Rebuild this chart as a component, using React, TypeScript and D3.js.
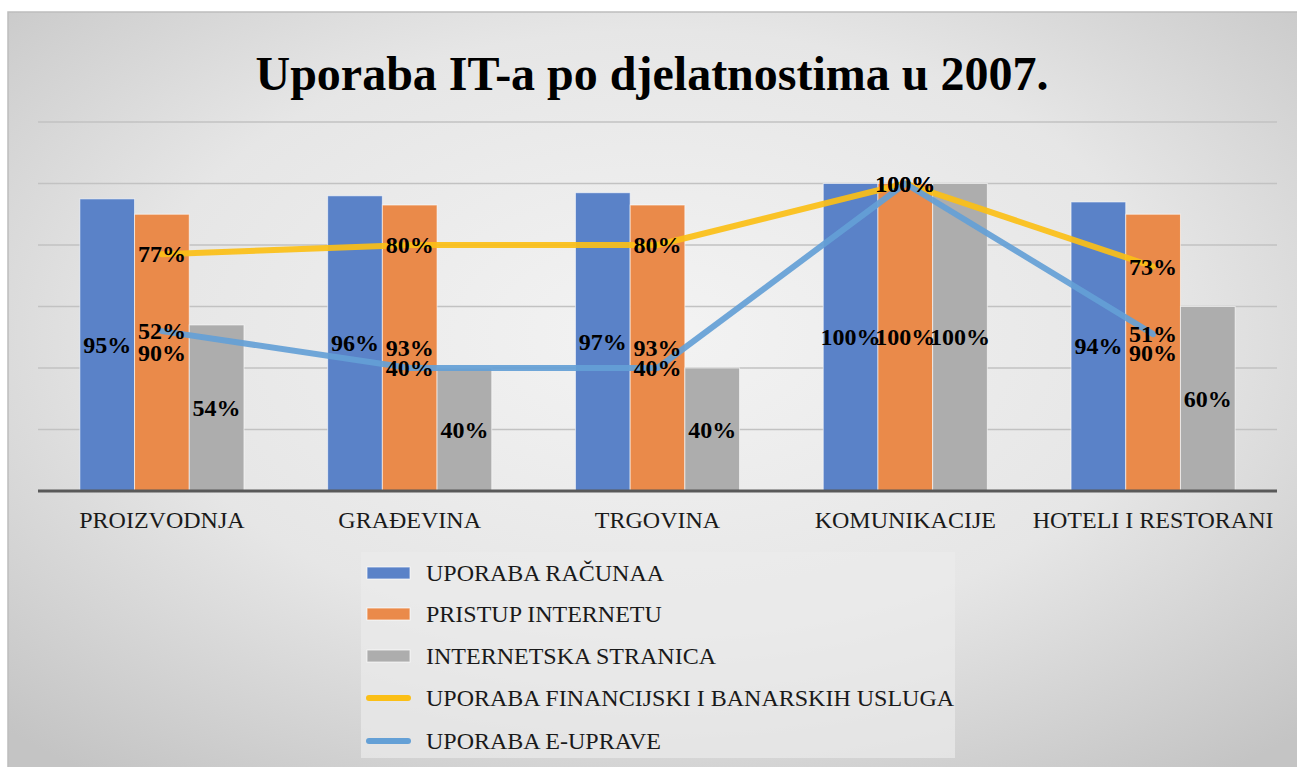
import * as d3 from "d3";

const WIDTH = 1297;
const HEIGHT = 767;
const PLOT = { left: 38, right: 1277, top: 122, bottom: 491 };

const categories = [
  "PROIZVODNJA",
  "GRAĐEVINA",
  "TRGOVINA",
  "KOMUNIKACIJE",
  "HOTELI I RESTORANI",
];

const barSeries = ["UPORABA RAČUNAA", "PRISTUP INTERNETU", "INTERNETSKA STRANICA"];
const racunala = [95, 96, 97, 100, 94];
const internet = [90, 93, 93, 100, 90];
const stranica = [54, 40, 40, 100, 60];

const lineSeries = ["UPORABA FINANCIJSKI I BANARSKIH USLUGA", "UPORABA E-UPRAVE"];
const financije = [77, 80, 80, 100, 73];
const eUprava = [52, 40, 40, 100, 51];

const yTicks = [0, 20, 40, 60, 80, 100, 120];

const barColors = ["#5a82c8", "#ea8a4a", "#adadad"];
const lineColors = ["#fbbf16", "#64a0d6"];

const SERIF = "'Liberation Serif', 'Times New Roman', serif";

export default function App() {
  const barValues = [racunala, internet, stranica];
  const lineValues = [financije, eUprava];

  const x0 = d3
    .scaleBand<string>()
    .domain(categories)
    .range([PLOT.left, PLOT.right])
    .padding(0);
  const x1 = d3
    .scaleBand<string>()
    .domain(barSeries)
    .range([0, x0.bandwidth()])
    .paddingInner(0)
    .paddingOuter(0.765);
  const y = d3.scaleLinear().domain([0, 120]).range([PLOT.bottom, PLOT.top]);

  const cx = (c: string) => (x0(c) as number) + x0.bandwidth() / 2;

  const line = d3
    .line<number>()
    .x((_, i) => cx(categories[i]))
    .y((d) => y(d));

  const legendY = [573, 614, 656, 698, 741];
  const legendItems = [
    ...barSeries.map((s, i) => ({ name: s, color: barColors[i], type: "bar" })),
    ...lineSeries.map((s, i) => ({ name: s, color: lineColors[i], type: "line" })),
  ];

  return (
    <svg
      width={WIDTH}
      height={HEIGHT}
      style={{ position: "absolute", left: 0, top: 0 }}
    >
      <defs>
        <radialGradient id="bg" cx="50%" cy="42%" r="72%">
          <stop offset="0%" stopColor="#f3f3f3" />
          <stop offset="55%" stopColor="#e6e6e6" />
          <stop offset="100%" stopColor="#c4c4c4" />
        </radialGradient>
      </defs>
      <rect x={0} y={0} width={WIDTH} height={HEIGHT} fill="#ffffff" />
      <rect
        x={8}
        y={12}
        width={WIDTH}
        height={HEIGHT}
        fill="url(#bg)"
        stroke="#bdbdbd"
        strokeWidth={1.5}
      />

      <text
        x={652}
        y={90}
        textAnchor="middle"
        fontFamily={SERIF}
        fontWeight="bold"
        fontSize={48}
        fill="#000"
      >
        Uporaba IT-a po djelatnostima u 2007.
      </text>

      {yTicks.slice(1).map((t) => (
        <line
          key={t}
          x1={PLOT.left}
          x2={PLOT.right}
          y1={y(t)}
          y2={y(t)}
          stroke="#c2c2c2"
          strokeWidth={1.5}
        />
      ))}

      {categories.map((c, ci) =>
        barSeries.map((s, si) => {
          const v = barValues[si][ci];
          return (
            <rect
              key={c + s}
              x={(x0(c) as number) + (x1(s) as number)}
              y={y(v)}
              width={x1.bandwidth()}
              height={y(0) - y(v)}
              fill={barColors[si]}
              stroke="#ffffff"
              strokeOpacity={0.6}
              strokeWidth={1}
            />
          );
        })
      )}

      <line
        x1={PLOT.left}
        x2={PLOT.right}
        y1={y(0)}
        y2={y(0)}
        stroke="#595959"
        strokeWidth={3}
      />

      {lineValues.map((vals, i) => (
        <path
          key={lineSeries[i]}
          d={line(vals) as string}
          fill="none"
          stroke={lineColors[i]}
          strokeOpacity={0.92}
          strokeWidth={6}
          strokeLinejoin="round"
          strokeLinecap="round"
        />
      ))}

      {categories.map((c, ci) =>
        barSeries.map((s, si) => {
          const v = barValues[si][ci];
          return (
            <text
              key={"l" + c + s}
              x={(x0(c) as number) + (x1(s) as number) + x1.bandwidth() / 2}
              y={(y(v) + y(0)) / 2}
              textAnchor="middle"
              dominantBaseline="central"
              fontFamily={SERIF}
              fontWeight="bold"
              fontSize={24}
              fill="#000"
            >
              {v}%
            </text>
          );
        })
      )}

      {lineValues.map((vals, i) =>
        vals.map((v, ci) => (
          <text
            key={"p" + i + ci}
            x={cx(categories[ci])}
            y={y(v)}
            textAnchor="middle"
            dominantBaseline="central"
            fontFamily={SERIF}
            fontWeight="bold"
            fontSize={24}
            fill="#000"
          >
            {v}%
          </text>
        ))
      )}

      {categories.map((c) => (
        <text
          key={"c" + c}
          x={cx(c)}
          y={528}
          textAnchor="middle"
          fontFamily={SERIF}
          fontSize={24}
          fill="#1a1a1a"
        >
          {c}
        </text>
      ))}

      <rect x={361} y={552} width={594} height={206} fill="#ebebeb" fillOpacity={0.7} />
      {legendItems.map((item, i) => (
        <g key={item.name} transform={`translate(0, ${legendY[i]})`}>
          {item.type === "bar" ? (
            <rect
              x={367}
              y={-6}
              width={43}
              height={12}
              fill={item.color}
              stroke="#ffffff"
              strokeOpacity={0.7}
              strokeWidth={1}
            />
          ) : (
            <line
              x1={369}
              x2={408}
              y1={0}
              y2={0}
              stroke={item.color}
              strokeWidth={6}
              strokeLinecap="round"
            />
          )}
          <text
            x={426}
            y={0}
            dominantBaseline="central"
            fontFamily={SERIF}
            fontSize={24}
            fill="#1a1a1a"
          >
            {item.name}
          </text>
        </g>
      ))}
    </svg>
  );
}
